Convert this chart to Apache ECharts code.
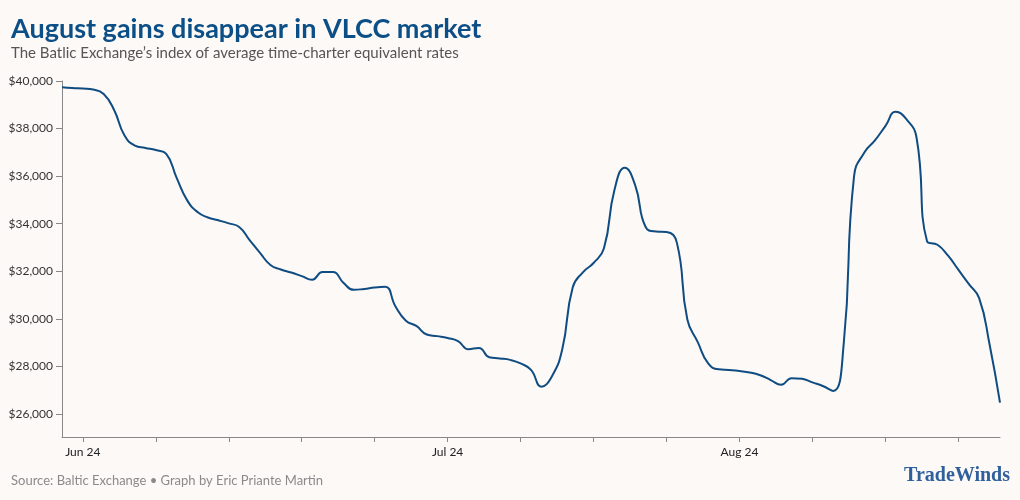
<!DOCTYPE html>
<html><head><meta charset="utf-8">
<script src="https://cdn.jsdelivr.net/npm/echarts@6/dist/echarts.min.js"></script>
<style>html,body{margin:0;padding:0;background:#fdf9f7;} #c{width:1020px;height:500px;}</style>
</head><body><div id="c"></div>
<script>
// Daily index values (USD/day)
const values = [
  39735, 39700, 39680, 39640, 39450, 38780, 37700, 37280, 37180, 37090,
  36930, 35920, 34980, 34480, 34250, 34130, 34000, 33850, 33300, 32760,
  32250, 32060, 31930, 31780, 31630, 31950, 31950, 31500, 31200, 31240,
  31300, 31330, 30500, 29900, 29680, 29320, 29250, 29170, 29040, 28700,
  28750, 28360, 28310, 28250, 28100, 27830, 27120, 27550, 28700, 31300,
  31950, 32330, 32950, 35400, 36350, 35600, 33850, 33660, 33640, 33180,
  29950, 29000, 28100, 27850, 27820, 27780, 27720, 27600, 27400, 27200,
  27480, 27450, 27300, 27150, 26940, 28900, 36000, 37000, 37500, 38100,
  38700, 38400, 37600, 33250, 33100, 32650, 32050, 31450, 30850, 28900,
  26450
];
const days = values.map((_, i) => 'd' + i);
const xTickStart = 2, xTickStep = 7;
const xTickLabels = { 2: 'Jun 24', 37: 'Jul 24', 65: 'Aug 24' };
const yTickMin = 26000, yTickMax = 40000, yTickStep = 2000;
const yAxisMin = 25000;

const chart = echarts.init(document.getElementById('c'), null, { renderer: 'canvas' });
const isTick = (i) => i >= xTickStart && (i - xTickStart) % xTickStep === 0;

chart.setOption({
  backgroundColor: '#fdf9f7',
  animation: false,
  title: {
    text: 'August gains disappear in VLCC market',
    subtext: 'The Batlic Exchange\u2019s index of average time-charter equivalent rates',
    left: 6, top: 11,
    itemGap: 3,
    textStyle: { fontFamily: 'Lato', fontWeight: 'bold', fontSize: 27, color: '#0c4f86' },
    subtextStyle: { fontFamily: 'Lato', fontSize: 15, color: '#555555' }
  },
  grid: [
    { left: 62, right: 20, top: 81, bottom: 63, containLabel: false },
    { left: 62, right: 20, top: 81, bottom: 86, containLabel: false }
  ],
  xAxis: [
    {
      type: 'category', gridIndex: 0, data: days, boundaryGap: false,
      axisLine: { lineStyle: { color: '#888', width: 1 } },
      axisTick: { show: true, interval: (i) => isTick(i), length: 5, lineStyle: { color: '#888' } },
      axisLabel: {
        interval: (i) => xTickLabels[i] !== undefined,
        formatter: (v, i) => xTickLabels[i] || '',
        color: '#222', fontFamily: 'Lato', fontSize: 12, margin: 9
      },
      splitLine: { show: false }
    },
    { type: 'category', gridIndex: 1, data: days, boundaryGap: false, show: false }
  ],
  yAxis: [
    {
      type: 'value', gridIndex: 0, min: yAxisMin, max: yTickMax,
      axisLine: { show: true, lineStyle: { color: '#888' } },
      axisTick: { show: false }, axisLabel: { show: false }, splitLine: { show: false }
    },
    {
      type: 'value', gridIndex: 1, min: yTickMin, max: yTickMax, interval: yTickStep,
      axisLine: { show: false },
      axisTick: { show: true, length: 6, lineStyle: { color: '#888' } },
      axisLabel: {
        formatter: (v) => '$' + v.toLocaleString('en-US'),
        color: '#333', fontFamily: 'Lato', fontSize: 12, margin: 9
      },
      splitLine: { show: false }
    }
  ],
  series: [{
    type: 'line', xAxisIndex: 0, yAxisIndex: 0, data: values,
    smooth: 0.5, showSymbol: false,
    lineStyle: { color: '#0f4c81', width: 2 }
  }],
  graphic: [
    {
      type: 'text', left: 11, top: 474,
      style: { text: 'Source: Baltic Exchange \u2022 Graph by Eric Priante Martin', fill: '#8a8a8a', font: '13px Lato' }
    },
    {
      type: 'text', right: 10, top: 466,
      style: { text: 'TradeWinds', fill: '#2f5f9c', font: 'bold 20px "Liberation Serif"' }
    }
  ]
});
</script></body></html>
